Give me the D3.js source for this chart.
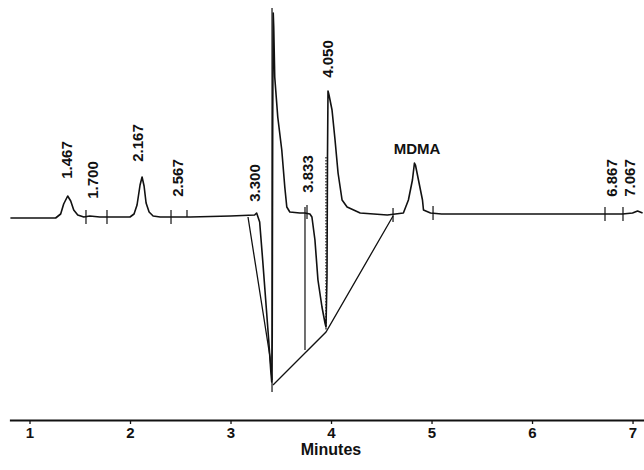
<!DOCTYPE html>
<html>
<head>
<meta charset="utf-8">
<script src="https://cdn.jsdelivr.net/npm/d3@7"></script>
<style>
  body { margin: 0; background: #fff; }
  text { font-family: "Liberation Sans", Arial, sans-serif; font-weight: bold; fill: #111; }
</style>
</head>
<body>
<div id="chart-area"></div>
<script>
// chromatogram trace: [minutes, detector signal]
const trace = [
  [0.81, -1], [1.00, -1], [1.26, -1], [1.31, 3], [1.34, 13], [1.38, 21], [1.41, 16],
  [1.44, 7], [1.48, 2], [1.54, 0], [1.60, 1], [1.70, 0], [1.80, 0], [2.00, 0],
  [2.04, 3], [2.07, 12], [2.10, 32], [2.12, 40], [2.14, 31], [2.16, 14], [2.19, 5],
  [2.23, 1], [2.30, 0], [2.60, 0], [3.00, 1], [3.24, 2], [3.26, 4], [3.29, -5],
  [3.32, -43], [3.35, -83], [3.38, -123], [3.40, -153], [3.41, -165], [3.415, -120],
  [3.42, 100], [3.425, 204], [3.43, 190], [3.44, 140], [3.47, 100], [3.51, 67],
  [3.54, 30], [3.56, 10], [3.59, 5], [3.69, 4], [3.74, 4], [3.79, 3], [3.81, 0],
  [3.84, -23], [3.87, -63], [3.91, -90], [3.94, -106], [3.95, -110], [3.96, -60],
  [3.965, 60], [3.97, 126], [3.98, 122], [4.01, 107], [4.04, 77], [4.07, 44],
  [4.11, 17], [4.16, 10], [4.29, 4], [4.56, 2], [4.72, 4], [4.77, 17], [4.81, 37],
  [4.83, 54], [4.84, 52], [4.87, 37], [4.91, 17], [4.92, 7], [4.99, 4], [5.10, 3],
  [5.50, 3], [5.90, 3], [6.30, 3], [6.70, 3], [6.90, 3], [7.00, 4], [7.05, 6], [7.10, 4]
];

// second trace edge on the negative peak
const negEdge = [[3.174, 0], [3.393, -140], [3.413, -163]];

// valley-to-valley baseline
const baseline = [[3.423, -168], [3.95, -115], [4.617, 1]];

// drop lines [minutes, top, bottom]
const dropLines = [[3.413, 209, -175], [3.741, 10, -133]];
const dottedLines = [[3.95, 60, -113]];

// integration ticks [minutes, signal]
const marks = [[1.562, 0], [1.771, 0], [2.408, 0], [3.761, 5], [4.617, 2], [5.015, 4], [6.726, 3], [6.905, 3]];
const halfMarks = [[2.567, 0]];

// peak labels [text, minutes, signal]
const peakLabels = [
  ['1.467', 1.373, 57], ['1.700', 1.632, 37], ['2.167', 2.080, 74], ['2.567', 2.478, 39],
  ['3.300', 3.244, 34], ['3.833', 3.771, 43], ['4.050', 3.970, 158],
  ['6.867', 6.796, 39], ['7.067', 6.975, 39]
];
const nameLabels = [['MDMA', 4.856, 68]];

const xTicks = [1, 2, 3, 4, 5, 6, 7];

const width = 644, height = 470;

const svg = d3.select('#chart-area').append('svg')
  .attr('width', width)
  .attr('height', height);

const x = d3.scaleLinear().domain([0.8, 7.12]).range([9.4, 644.6]);
const y = d3.scaleLinear().domain([-180, 210]).range([397, 7]);

const line = d3.line().x(d => x(d[0])).y(d => y(d[1]));

svg.append('path')
  .datum(negEdge)
  .attr('d', line)
  .attr('fill', 'none')
  .attr('stroke', '#111')
  .attr('stroke-width', 1.3);

svg.append('path')
  .datum(baseline)
  .attr('d', line)
  .attr('fill', 'none')
  .attr('stroke', '#111')
  .attr('stroke-width', 1.3);

svg.selectAll('.drop')
  .data(dropLines)
  .enter()
  .append('line')
  .attr('x1', d => x(d[0]))
  .attr('x2', d => x(d[0]))
  .attr('y1', d => y(d[1]))
  .attr('y2', d => y(d[2]))
  .attr('stroke', '#111')
  .attr('stroke-width', 1.2);

svg.selectAll('.dotted')
  .data(dottedLines)
  .enter()
  .append('line')
  .attr('x1', d => x(d[0]))
  .attr('x2', d => x(d[0]))
  .attr('y1', d => y(d[1]))
  .attr('y2', d => y(d[2]))
  .attr('stroke', '#111')
  .attr('stroke-width', 1.2)
  .attr('stroke-dasharray', '1.5,1.5');

svg.append('path')
  .datum(trace)
  .attr('d', line)
  .attr('fill', 'none')
  .attr('stroke', '#111')
  .attr('stroke-width', 1.6)
  .attr('stroke-linejoin', 'round');

svg.selectAll('.mark')
  .data(marks)
  .enter()
  .append('line')
  .attr('x1', d => x(d[0]))
  .attr('x2', d => x(d[0]))
  .attr('y1', d => y(d[1]) - 7)
  .attr('y2', d => y(d[1]) + 7)
  .attr('stroke', '#111')
  .attr('stroke-width', 1.2);

svg.selectAll('.halfmark')
  .data(halfMarks)
  .enter()
  .append('line')
  .attr('x1', d => x(d[0]))
  .attr('x2', d => x(d[0]))
  .attr('y1', d => y(d[1]) - 7)
  .attr('y2', d => y(d[1]))
  .attr('stroke', '#111')
  .attr('stroke-width', 1.2);

svg.selectAll('.peaklabel')
  .data(peakLabels)
  .enter()
  .append('text')
  .attr('transform', d => `translate(${x(d[1])},${y(d[2])}) rotate(-90)`)
  .attr('text-anchor', 'middle')
  .attr('dy', '0.35em')
  .attr('font-size', '15px')
  .text(d => d[0]);

svg.selectAll('.namelabel')
  .data(nameLabels)
  .enter()
  .append('text')
  .attr('x', d => x(d[1]))
  .attr('y', d => y(d[2]))
  .attr('text-anchor', 'middle')
  .attr('dy', '0.35em')
  .attr('font-size', '15px')
  .text(d => d[0]);

// time axis
const axis = svg.append('g')
  .attr('transform', 'translate(0,420)')
  .call(d3.axisBottom(x).tickValues(xTicks).tickFormat(d3.format('d')).tickSize(4).tickSizeOuter(0));

axis.select('.domain').attr('stroke', '#111').attr('stroke-width', 1.8);
axis.selectAll('.tick line').attr('stroke', '#111').attr('stroke-width', 1.3);
axis.selectAll('.tick text')
  .attr('font-size', '15px')
  .attr('font-weight', 'bold')
  .attr('font-family', '"Liberation Sans", Arial, sans-serif')
  .attr('fill', '#111');

svg.append('text')
  .attr('x', x(4))
  .attr('y', 455)
  .attr('text-anchor', 'middle')
  .attr('font-size', '16px')
  .text('Minutes');
</script>
</body>
</html>
